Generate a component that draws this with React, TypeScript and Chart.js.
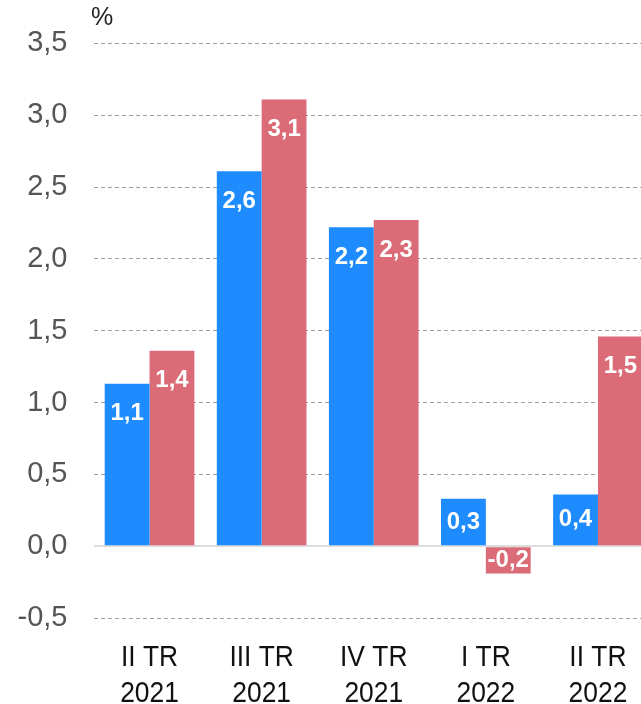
import React, { useEffect, useRef } from 'react';
import { Chart, registerables } from 'chart.js';

Chart.register(...registerables);

const categories: string[][] = [
  ['II TR', '2021'],
  ['III TR', '2021'],
  ['IV TR', '2021'],
  ['I TR', '2022'],
  ['II TR', '2022'],
];
const seriesBlue = [1.13, 2.61, 2.22, 0.33, 0.36];
const seriesRed = [1.36, 3.11, 2.27, -0.19, 1.46];
const yMin = -0.5;
const yMax = 3.5;
const yStep = 0.5;
const unitLabel = '%';

const BLUE = '#1E8BFE';
const RED = '#DA6B77';

const fmt = (v: number) => v.toFixed(1).replace('.', ',');

const valueLabels = {
  id: 'valueLabels',
  afterDatasetsDraw(chart: any) {
    const ctx = chart.ctx;
    ctx.save();
    ctx.font = 'bold 24px "Liberation Sans", Arial, sans-serif';
    ctx.fillStyle = '#ffffff';
    ctx.textAlign = 'center';
    ctx.textBaseline = 'middle';
    chart.data.datasets.forEach((ds: any, i: number) => {
      const meta = chart.getDatasetMeta(i);
      meta.data.forEach((el: any, j: number) => {
        const v = ds.data[j] as number;
        const { x, y, base } = el.getProps(['x', 'y', 'base'], true);
        const mid = (y + base) / 2;
        const ly = v >= 0 ? Math.min(y + 30, mid) : Math.max(y - 30, mid);
        ctx.fillText(fmt(v), x, ly);
      });
    });
    ctx.restore();
  },
};

// Category labels drawn in a slightly condensed style under each category
const condensedXLabels = {
  id: 'condensedXLabels',
  afterDraw(chart: any) {
    const ctx = chart.ctx;
    const xs = chart.scales.x;
    const sx = 0.88;
    ctx.save();
    ctx.font = '30px "Liberation Sans", Arial, sans-serif';
    ctx.fillStyle = '#111111';
    ctx.textAlign = 'center';
    ctx.textBaseline = 'alphabetic';
    const labels = chart.data.labels as string[][];
    labels.forEach((lines, i) => {
      const x = xs.getPixelForValue(i);
      lines.forEach((t, k) => {
        ctx.save();
        ctx.translate(x, xs.top + 48 + k * 36);
        ctx.scale(sx, 1);
        ctx.fillText(t, 0, 0);
        ctx.restore();
      });
    });
    ctx.restore();
  },
};

const unitPlugin = {
  id: 'unitPlugin',
  afterDraw(chart: any) {
    const ctx = chart.ctx;
    ctx.save();
    ctx.font = '25px "Liberation Sans", Arial, sans-serif';
    ctx.fillStyle = '#222222';
    ctx.textAlign = 'left';
    ctx.textBaseline = 'alphabetic';
    ctx.fillText(unitLabel, 91, 25);
    ctx.restore();
  },
};

export default function App() {
  const ref = useRef<HTMLCanvasElement | null>(null);

  useEffect(() => {
    if (!ref.current) return;
    const chart = new Chart(ref.current, {
      type: 'bar',
      data: {
        labels: categories,
        datasets: [
          {
            data: seriesBlue,
            backgroundColor: BLUE,
            borderWidth: 0,
            barPercentage: 1,
            categoryPercentage: 0.8,
          },
          {
            data: seriesRed,
            backgroundColor: RED,
            borderWidth: 0,
            barPercentage: 1,
            categoryPercentage: 0.8,
          },
        ],
      },
      options: {
        responsive: false,
        animation: false,
        devicePixelRatio: 1,
        layout: { padding: { top: 42, left: 0, right: 0, bottom: 0 } },
        plugins: {
          legend: { display: false },
          tooltip: { enabled: false },
        },
        scales: {
          x: {
            offset: true,
            grid: { display: false, drawTicks: false },
            border: { display: false },
            ticks: { display: false },
            afterFit: (s: any) => {
              s.height = 86;
            },
          },
          y: {
            min: yMin,
            max: yMax,
            grid: {
              drawTicks: false,
              color: (c: any) => (c.tick && c.tick.value === 0 ? '#dcdcdc' : '#a0a0a0'),
              lineWidth: (c: any) => (c.tick && c.tick.value === 0 ? 2 : 1),
            },
            border: {
              display: false,
              dash: (c: any) => (c.tick && c.tick.value === 0 ? [] : [4, 3]),
            },
            ticks: {
              stepSize: yStep,
              color: '#555555',
              padding: 26,
              font: { family: '"Liberation Sans", Arial, sans-serif', size: 29 },
              callback: (v: any) => fmt(Number(v)),
            },
            afterFit: (s: any) => {
              s.width = 93.5;
            },
          },
        },
      },
      plugins: [valueLabels, condensedXLabels, unitPlugin],
    });
    return () => chart.destroy();
  }, []);

  return (
    <div
      style={{
        position: 'absolute',
        left: 0,
        top: 0,
        width: 641,
        height: 704,
        overflow: 'hidden',
        background: '#ffffff',
      }}
    >
      <canvas ref={ref} width={654} height={704} style={{ display: 'block' }} />
    </div>
  );
}
